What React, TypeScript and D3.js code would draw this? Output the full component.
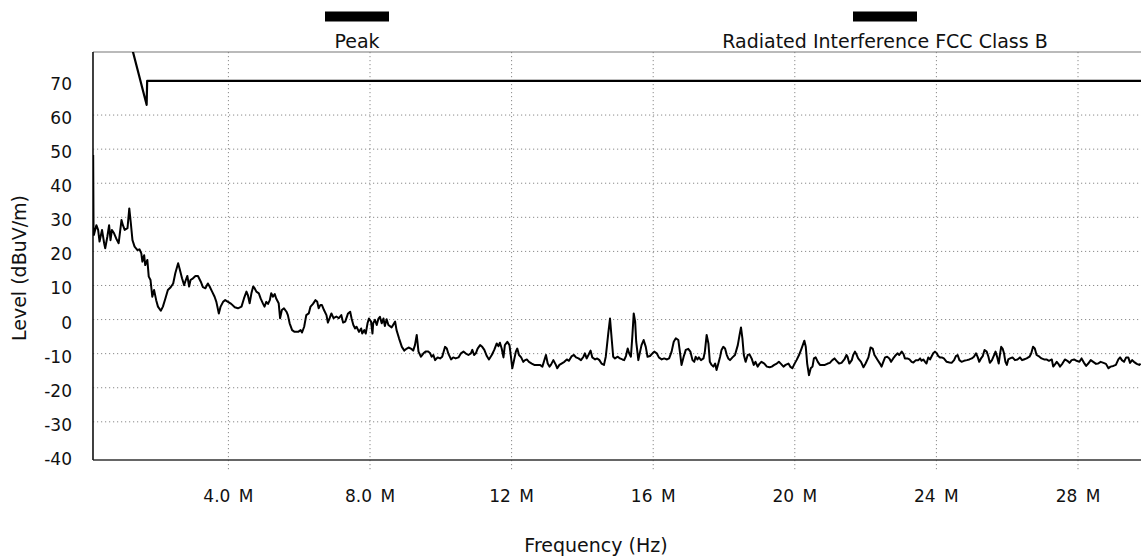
import React from "react";
import * as d3 from "d3";

// Peak detector sweep, 0.18 – 29.8 MHz, level in dBuV/m
const peakBand1: [number, number][] = [
  [0.18, 48.3], [0.19, 27.0], [0.2, 24.8], [0.27, 27.7], [0.32, 26.3], [0.36, 22.9], [0.43, 26.3], [0.49, 22.4],
  [0.52, 20.9], [0.58, 24.3], [0.63, 27.7], [0.67, 23.3], [0.71, 26.3], [0.77, 25.3], [0.83, 23.8], [0.9, 22.4],
  [0.98, 29.2], [1.02, 27.7], [1.07, 26.3], [1.15, 26.8], [1.2, 32.6], [1.24, 28.7], [1.29, 23.3], [1.35, 21.4],
  [1.43, 20.4], [1.49, 20.6], [1.54, 19.4], [1.57, 17.0], [1.62, 18.9], [1.65, 16.0], [1.71, 17.5], [1.75, 12.6],
  [1.8, 11.6], [1.85, 6.7], [1.9, 8.7], [1.96, 5.7], [2.01, 3.8], [2.09, 2.6], [2.15, 3.8], [2.22, 6.2],
  [2.29, 8.7], [2.37, 9.5], [2.44, 10.6], [2.5, 13.6], [2.58, 16.5], [2.62, 15.0], [2.69, 12.1], [2.75, 10.1],
  [2.78, 11.1], [2.84, 12.8], [2.89, 9.7], [2.93, 11.6], [3.0, 12.1], [3.07, 12.8], [3.14, 12.8], [3.22, 11.1],
  [3.28, 9.5], [3.35, 9.2], [3.42, 10.6], [3.47, 9.7], [3.54, 8.2], [3.61, 6.7], [3.66, 5.2], [3.73, 1.8],
  [3.78, 3.8], [3.85, 5.2], [3.91, 5.7], [3.99, 5.2], [4.08, 4.6], [4.18, 3.6], [4.27, 3.3], [4.37, 3.8],
  [4.44, 6.2], [4.51, 8.2], [4.55, 7.2], [4.6, 4.8], [4.65, 7.7], [4.7, 9.7], [4.74, 9.2], [4.79, 8.2],
  [4.86, 7.7], [4.91, 6.2], [4.98, 4.6], [5.02, 3.8], [5.07, 5.2], [5.12, 4.6], [5.17, 5.7], [5.21, 7.7],
  [5.26, 6.7], [5.31, 7.5], [5.35, 6.2], [5.42, 4.8], [5.46, 0.4], [5.51, 2.8], [5.57, 3.3], [5.64, 2.3],
  [5.68, 1.3], [5.73, -1.1], [5.8, -3.1], [5.87, -3.6], [5.97, -3.6], [6.04, -3.1], [6.08, -3.8], [6.14, -2.1],
  [6.2, 1.3], [6.27, 1.8], [6.32, 3.8], [6.39, 4.6], [6.46, 5.7], [6.51, 5.2], [6.55, 3.3], [6.6, 4.3],
  [6.64, 4.3], [6.7, 2.8], [6.77, 1.3], [6.81, -0.9], [6.86, 0.4], [6.91, 1.8], [6.97, 0.4], [7.05, 0.9],
  [7.12, 0.4], [7.19, 1.3], [7.24, -0.9], [7.3, -0.6], [7.38, 1.8], [7.44, 2.3],
];

const peakBand2: [number, number][] = [
  [7.48, 0.3], [7.53, -1.6], [7.58, -2.6], [7.62, -2.1], [7.69, -3.6], [7.75, -2.6], [7.78, -4.1], [7.84, -3.1],
  [7.88, -4.1], [7.93, -1.1], [7.97, 0.3], [8.03, -0.6], [8.07, -4.1], [8.09, -1.1], [8.14, -0.1], [8.19, -1.6],
  [8.24, 0.3], [8.28, 0.8], [8.33, -1.1], [8.38, 0.3], [8.42, -1.9], [8.47, 0.1], [8.52, -1.6], [8.61, -2.3],
  [8.71, -0.6], [8.75, -3.1], [8.82, -5.5], [8.9, -8.0], [8.97, -9.1], [9.04, -8.5], [9.1, -8.2], [9.18, -8.7],
  [9.22, -9.1], [9.27, -7.5], [9.32, -4.5], [9.37, -9.4], [9.44, -10.9], [9.51, -9.9], [9.57, -9.4], [9.65, -9.4],
  [9.7, -9.9], [9.74, -10.9], [9.79, -10.4], [9.84, -11.9], [9.91, -11.1], [9.98, -11.4], [10.04, -10.9], [10.12, -8.0],
  [10.17, -8.5], [10.21, -9.9], [10.29, -11.7], [10.35, -11.1], [10.42, -11.4], [10.5, -11.1], [10.57, -9.9], [10.64, -9.4],
  [10.7, -9.9], [10.78, -10.4], [10.85, -9.9], [10.89, -8.9], [10.94, -10.4], [10.99, -9.9], [11.04, -8.5], [11.11, -7.5],
  [11.17, -8.0], [11.23, -8.9], [11.3, -10.7], [11.36, -11.7], [11.44, -10.4], [11.51, -8.9], [11.58, -7.0], [11.63, -7.8],
  [11.67, -6.8], [11.72, -8.5], [11.77, -11.1], [11.81, -7.5], [11.88, -6.5], [11.94, -7.5], [11.97, -9.9], [12.02, -14.3],
  [12.07, -11.9], [12.12, -9.4], [12.16, -8.5], [12.21, -10.4], [12.27, -11.1], [12.33, -12.4], [12.38, -11.9], [12.43, -11.7],
  [12.49, -12.4], [12.57, -12.9], [12.64, -13.3], [12.71, -13.3], [12.8, -13.3], [12.87, -13.8], [12.92, -12.1], [12.97, -10.4],
  [13.02, -12.9], [13.07, -13.8], [13.11, -13.3], [13.18, -11.9], [13.25, -13.3], [13.29, -14.3], [13.35, -13.3], [13.41, -12.9],
  [13.49, -12.4], [13.56, -11.7], [13.62, -12.1], [13.7, -10.7], [13.76, -10.4], [13.82, -11.1], [13.89, -11.4], [13.96, -11.9],
  [14.03, -10.9], [14.07, -9.9], [14.12, -11.4], [14.17, -10.4], [14.23, -9.1], [14.28, -11.1], [14.36, -11.7], [14.42, -11.4],
  [14.48, -11.9], [14.54, -12.9], [14.61, -13.3], [14.66, -10.9],
];

const peakBand3: [number, number][] = [
  [14.69, -8.0], [14.73, -4.1], [14.78, 0.3], [14.83, -6.0], [14.87, -10.9], [14.92, -11.4], [15.0, -10.9], [15.06, -11.4],
  [15.13, -11.7], [15.18, -11.9], [15.23, -10.7], [15.28, -8.5], [15.32, -9.9], [15.37, -10.9], [15.41, -5.0], [15.45, 1.8],
  [15.49, -0.6], [15.52, -6.5], [15.58, -11.9], [15.63, -9.4], [15.67, -7.5], [15.73, -6.0], [15.79, -8.0], [15.84, -10.9],
  [15.91, -10.7], [15.98, -9.9], [16.03, -9.4], [16.1, -9.9], [16.16, -11.1], [16.24, -11.7], [16.31, -11.4], [16.39, -11.7],
  [16.45, -11.4], [16.52, -9.4], [16.58, -6.5], [16.64, -5.5], [16.71, -6.0], [16.76, -9.9], [16.8, -13.3], [16.86, -10.9],
  [16.92, -8.9], [16.99, -8.6], [17.05, -9.4], [17.11, -11.9], [17.16, -12.4], [17.2, -10.9], [17.25, -11.7], [17.29, -11.1],
  [17.35, -11.9], [17.42, -11.4], [17.46, -9.4], [17.51, -4.5], [17.56, -7.0], [17.6, -12.4], [17.65, -13.3], [17.7, -13.8],
  [17.75, -12.9], [17.79, -14.8], [17.84, -12.9], [17.89, -10.9], [17.93, -8.9], [17.98, -8.0], [18.03, -8.5], [18.08, -10.4],
  [18.12, -11.4], [18.17, -11.9], [18.24, -11.1], [18.31, -10.4], [18.39, -7.5], [18.44, -4.5], [18.48, -2.3], [18.52, -5.5],
  [18.56, -10.4], [18.61, -12.4], [18.67, -10.4], [18.72, -10.2], [18.78, -11.4], [18.84, -13.3], [18.89, -12.4], [18.95, -13.8],
  [19.0, -13.0], [19.06, -12.4], [19.14, -12.9], [19.21, -13.8], [19.29, -14.0], [19.35, -13.8], [19.42, -13.3], [19.49, -12.9],
  [19.55, -12.4], [19.61, -13.0], [19.68, -13.8], [19.74, -13.3], [19.82, -12.9], [19.87, -13.8], [19.93, -14.3], [19.99, -13.0],
  [20.05, -11.9], [20.12, -10.4], [20.19, -8.5], [20.27, -6.2], [20.31, -8.0], [20.35, -12.9], [20.4, -16.3], [20.45, -14.3],
  [20.5, -13.8], [20.54, -11.4], [20.59, -11.1], [20.65, -12.4], [20.71, -13.3], [20.78, -13.3], [20.85, -13.3], [20.93, -12.9],
  [20.99, -12.7], [21.06, -11.9], [21.12, -11.4], [21.18, -12.1], [21.25, -12.9], [21.32, -12.7], [21.4, -11.7], [21.46, -10.4],
  [21.49, -10.9], [21.54, -12.9], [21.61, -11.9], [21.65, -10.4], [21.7, -9.4], [21.75, -10.4], [21.79, -11.4], [21.87, -12.4],
  [21.94, -14.0], [22.0, -12.9], [22.08, -11.1], [22.14, -8.2], [22.2, -8.5], [22.25, -10.4],
];

const peakBand4: [number, number][] = [
  [22.27, -10.7], [22.33, -11.7], [22.41, -13.0], [22.45, -13.8], [22.5, -12.4], [22.55, -11.1], [22.61, -10.9], [22.67, -11.4],
  [22.72, -12.4], [22.78, -11.4], [22.83, -10.7], [22.9, -9.9], [22.95, -10.4], [23.02, -9.4], [23.07, -10.1], [23.11, -11.4],
  [23.18, -11.4], [23.24, -11.7], [23.3, -12.4], [23.35, -12.6], [23.42, -11.9], [23.49, -11.9], [23.54, -11.4], [23.58, -12.1],
  [23.63, -11.7], [23.68, -12.4], [23.72, -12.9], [23.77, -11.1], [23.82, -11.7], [23.87, -10.7], [23.91, -9.9], [23.96, -9.4],
  [24.01, -9.9], [24.05, -10.7], [24.1, -11.1], [24.15, -11.1], [24.21, -11.4], [24.29, -12.4], [24.37, -12.6], [24.43, -12.7],
  [24.5, -11.9], [24.55, -10.7], [24.6, -10.4], [24.65, -11.9], [24.71, -12.4], [24.78, -12.1], [24.86, -11.9], [24.93, -11.7],
  [25.0, -11.4], [25.06, -10.9], [25.12, -9.9], [25.17, -11.1], [25.21, -12.4], [25.26, -11.4], [25.31, -10.7], [25.36, -8.9],
  [25.42, -9.4], [25.47, -10.9], [25.51, -12.7], [25.57, -11.9], [25.63, -10.4], [25.67, -9.4], [25.72, -11.1], [25.76, -12.9],
  [25.8, -9.9], [25.83, -8.0], [25.87, -8.5], [25.91, -9.9], [25.95, -12.4], [25.99, -13.3], [26.03, -11.7], [26.08, -11.4],
  [26.15, -11.1], [26.22, -11.9], [26.29, -11.7], [26.36, -11.1], [26.42, -11.9], [26.47, -11.7], [26.55, -11.4], [26.63, -10.9],
  [26.68, -9.9], [26.73, -8.0], [26.78, -8.5], [26.83, -10.4], [26.91, -10.9], [26.97, -11.4], [27.04, -11.7], [27.11, -11.7],
  [27.18, -12.1], [27.26, -11.7], [27.3, -13.8], [27.36, -13.0], [27.4, -12.4], [27.44, -12.9], [27.49, -13.8], [27.56, -12.9],
  [27.63, -11.7], [27.7, -12.1], [27.76, -12.7], [27.82, -11.9], [27.89, -11.7], [27.96, -12.1], [28.04, -12.4], [28.1, -11.4],
  [28.17, -12.7], [28.23, -13.6], [28.29, -12.9], [28.36, -11.9], [28.43, -12.4], [28.51, -13.0], [28.57, -12.9], [28.64, -12.4],
  [28.72, -12.7], [28.79, -13.0], [28.86, -14.3], [28.92, -13.8], [29.0, -13.6], [29.07, -13.3], [29.14, -11.7], [29.19, -11.1],
  [29.24, -11.9], [29.3, -12.4], [29.36, -11.1], [29.42, -11.1], [29.47, -12.7], [29.53, -11.9], [29.58, -12.4], [29.66, -13.0],
  [29.73, -13.3], [29.77, -13.0],
];

// FCC Class B radiated limit (3 m), dBuV/m
const limitClassB: [number, number][] = [
  [1.28, 79.5], [1.69, 63.0], [1.705, 70.0], [30.0, 70.0],
];

const yTickValues = [70, 60, 50, 40, 30, 20, 10, 0, -10, -20, -30, -40];
const yGridValues = [60, 50, 40, 30, 20, 10, 0, -10, -20, -30];
const xTickValues = [4, 8, 12, 16, 20, 24, 28];
const xTickLabels = ["4.0 M", "8.0 M", "12 M", "16 M", "20 M", "24 M", "28 M"];

const legendItems = ["Peak", "Radiated Interference FCC Class B"];

const W = 1141;
const H = 558;
const FONT = "'DejaVu Sans', Verdana, sans-serif";

export default function App() {
  const x = d3.scaleLinear().domain([0, 30]).range([86.8, 1148.8]);
  const y = d3.scaleLinear().domain([-41.2, 78.5]).range([460, 52]);

  const left = x(0.175);
  const right = W;
  const top = y(78.5);
  const bottom = y(-41.2);

  const line = d3
    .line<[number, number]>()
    .x((d) => x(d[0]))
    .y((d) => y(d[1]));

  const peak = [...peakBand1, ...peakBand2, ...peakBand3, ...peakBand4];

  const legendCenters = [357, 885];

  return (
    <svg
      width={W}
      height={H}
      style={{ position: "absolute", left: 0, top: 0, background: "#fff" }}
      fontFamily={FONT}
    >
      <defs>
        <clipPath id="plot-clip">
          <rect x={left} y={top} width={right - left} height={bottom - top} />
        </clipPath>
      </defs>
      <rect x={0} y={0} width={W} height={H} fill="#fff" />

      {/* legend */}
      {legendItems.map((name, i) => (
        <g key={name}>
          <rect x={legendCenters[i] - 32} y={11.5} width={64} height={10} fill="#000" />
          <text x={legendCenters[i]} y={48} fontSize={19} textAnchor="middle" fill="#111">
            {name}
          </text>
        </g>
      ))}

      {/* grid */}
      <g stroke="#8a8a8a" strokeWidth={1} strokeDasharray="1.2,2.8">
        {yGridValues.map((v) => (
          <line key={"h" + v} x1={left} x2={right} y1={y(v)} y2={y(v)} />
        ))}
        {xTickValues.map((v) => (
          <line key={"v" + v} x1={x(v)} x2={x(v)} y1={top} y2={bottom + 10} />
        ))}
      </g>

      {/* frame */}
      <line x1={left} x2={right} y1={top} y2={top} stroke="#777" strokeWidth={1.2} />
      <line x1={left} x2={right} y1={bottom} y2={bottom} stroke="#333" strokeWidth={1.5} />
      <line x1={left} x2={left} y1={top} y2={bottom} stroke="#111" strokeWidth={1.6} />

      {/* traces */}
      <g clipPath="url(#plot-clip)" fill="none" stroke="#000" strokeLinejoin="round">
        <path d={line(limitClassB) ?? ""} strokeWidth={2.2} />
        <path d={line(peak) ?? ""} strokeWidth={2} />
      </g>

      {/* y axis labels */}
      <g fontSize={17} fill="#111" textAnchor="end">
        {yTickValues.map((v) => (
          <text key={v} x={72} y={y(v) + 9}>
            {v}
          </text>
        ))}
      </g>

      {/* x axis labels */}
      <g fontSize={17} fill="#111" textAnchor="middle" style={{ wordSpacing: "3px" }}>
        {xTickValues.map((v, i) => (
          <text key={v} x={x(v)} y={502}>
            {xTickLabels[i]}
          </text>
        ))}
      </g>

      <text x={596} y={552} fontSize={19} textAnchor="middle" fill="#111">
        Frequency (Hz)
      </text>
      <text
        transform={`translate(26, 268) rotate(-90)`}
        fontSize={19}
        textAnchor="middle"
        fill="#111"
      >
        Level (dBuV/m)
      </text>
    </svg>
  );
}
